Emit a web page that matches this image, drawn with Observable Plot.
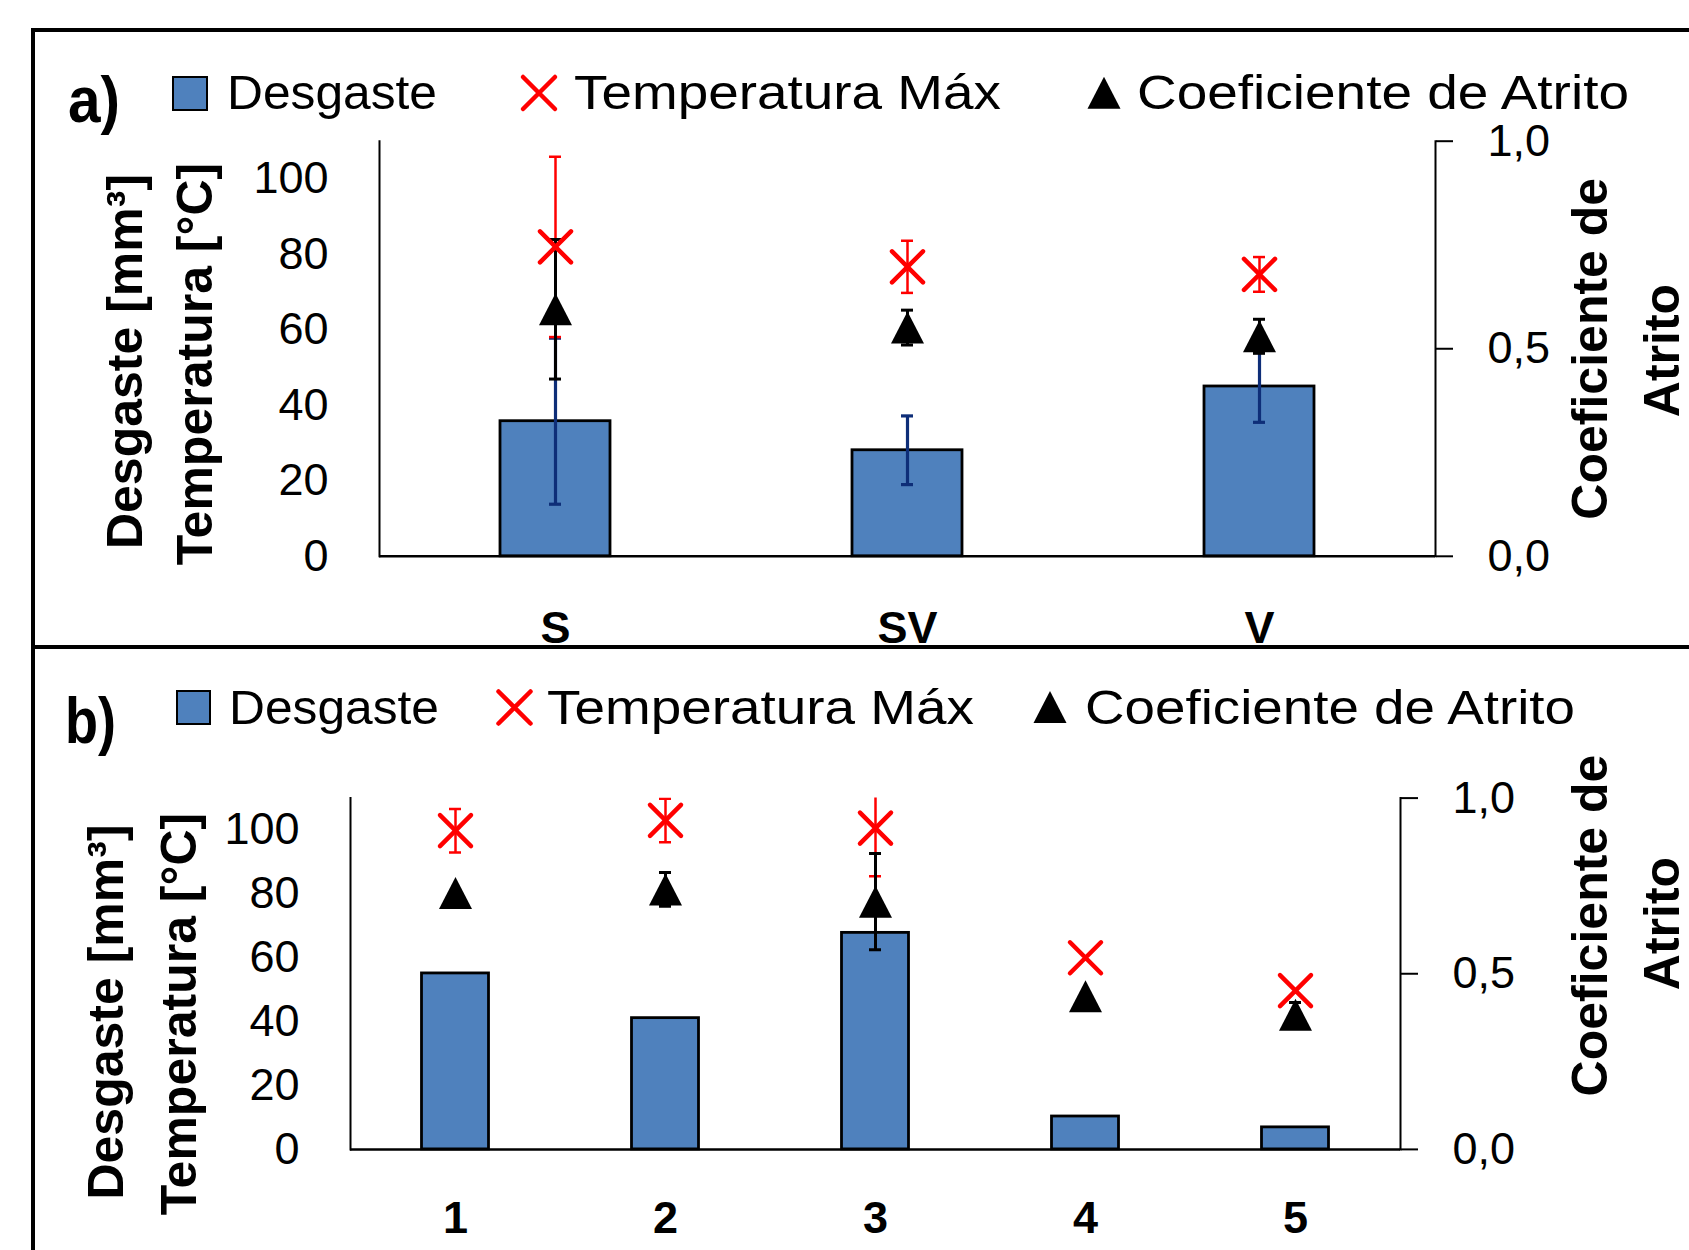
<!DOCTYPE html>
<html><head><meta charset="utf-8">
<script src="https://cdn.jsdelivr.net/npm/d3@7"></script>
<script src="https://cdn.jsdelivr.net/npm/@observablehq/plot@0.6"></script>
<style>
html,body{margin:0;padding:0;background:#fff;width:1689px;height:1250px;overflow:hidden;}
#root{position:relative;width:1689px;height:1250px;overflow:hidden;}
.abs{position:absolute;display:block;overflow:visible;}
</style></head><body><div id="root"></div>
<script>
// ---------- Panel a) ----------
const catsA = ["S", "SV", "V"];
const desgasteA = [35.8, 28.1, 45.0];
const desgasteErrA = [22.0, 9.1, 9.5];
const tempA = [82.0, 76.7, 74.7];
const tempErrA = [23.9, 6.9, 4.6];
const coefA = [0.595, 0.551, 0.530];
const coefErrA = [0.168, 0.042, 0.041];

// ---------- Panel b) ----------
const catsB = ["1", "2", "3", "4", "5"];
const desgasteB = [55.1, 41.1, 67.8, 10.3, 6.9];
const desgasteErrB = [0, 0, 0, 0, 0];
const tempB = [99.8, 103.0, 100.6, 60.0, 49.7];
const tempErrB = [6.8, 6.8, 15.1, 0, 0];
const coefB = [0.730, 0.740, 0.705, 0.436, 0.383];
const coefErrB = [0, 0.048, 0.137, 0, 0.035];

// ---------- Axes / text ----------
const leftTicks = [0, 20, 40, 60, 80, 100];
const rightTicks = [0, 0.5, 1.0];
const leftMax = 110, rightMax = 1.0;
const legendLabels = ["Desgaste", "Temperatura Máx", "Coeficiente de Atrito"];
const leftTitle = ["Desgaste [mm³]", "Temperatura [°C]"];
const rightTitle = ["Coeficiente de", "Atrito"];
const panelLabels = ["a)", "b)"];

const K = leftMax / rightMax;
const NAVY = "#0e2e78", RED = "#ff0000", BAR = "#4f81bd";
const FONT = "'Liberation Sans', Arial, sans-serif";

const triSym = {draw(ctx, size) {
  const r = Math.sqrt(size / Math.PI), w = r * 0.97, h = r * 0.94;
  ctx.moveTo(0, -h); ctx.lineTo(w, h); ctx.lineTo(-w, h); ctx.closePath();
}};
const timesSym = {draw(ctx, size) {
  const r = Math.sqrt(size / Math.PI);
  ctx.moveTo(-r, -r); ctx.lineTo(r, r); ctx.moveTo(r, -r); ctx.lineTo(-r, r);
}};

function errMarks(rows, key, errKey, color, capInset, sw) {
  const f = rows.filter(d => d[errKey] > 0);
  return [
    Plot.ruleX(f, {x: "cat", y1: d => d[key] - d[errKey], y2: d => d[key] + d[errKey], stroke: color, strokeWidth: sw, clip: true}),
    Plot.tickY(f, {x: "cat", y: d => d[key] - d[errKey], stroke: color, strokeWidth: sw, insetLeft: capInset, insetRight: capInset, clip: true}),
    Plot.tickY(f, {x: "cat", y: d => d[key] + d[errKey], stroke: color, strokeWidth: sw, insetLeft: capInset, insetRight: capInset, clip: true})
  ];
}

function title(txt, anchor, off) {
  return Plot.text([txt], {text: d => d, frameAnchor: anchor, textAnchor: "middle", lineAnchor: "middle",
    rotate: -90, dx: off[0], dy: off[1], fontSize: 50, fontWeight: "bold"});
}

function panel(c) {
  const rows = c.cats.map((cat, i) => ({
    cat, d: c.desg[i], de: c.desgErr[i], t: c.temp[i], te: c.tempErr[i],
    f: c.coef[i] * K, fe: c.coefErr[i] * K
  }));
  const W = 1689;
  const band = (W - c.ml - c.mr) / c.cats.length;
  const capInset = (band - 12) / 2;
  const barInset = (band - c.barW) / 2;
  const p = Plot.plot({
    width: W, height: c.h,
    marginLeft: c.ml, marginRight: c.mr, marginTop: c.mt, marginBottom: c.mb,
    x: {domain: c.cats, padding: 0, label: null},
    y: {domain: [0, leftMax], label: null},
    style: {fontFamily: FONT, fontSize: "45px", color: "black", background: "transparent", overflow: "visible"},
    marks: [
      Plot.barY(rows, {x: "cat", y: "d", fill: BAR, stroke: "black", strokeWidth: 2.8, insetLeft: barInset, insetRight: barInset}),
      ...errMarks(rows, "d", "de", NAVY, capInset, 3.2),
      ...errMarks(rows, "t", "te", RED, capInset, 2.5),
      ...errMarks(rows, "f", "fe", "black", capInset, 3),
      Plot.dot(rows, {x: "cat", y: "f", symbol: triSym, r: 17, fill: "black", stroke: "none"}),
      Plot.dot(rows, {x: "cat", y: "t", symbol: timesSym, r: 15.5, fill: "none", stroke: RED, strokeWidth: 4.5, strokeLinecap: "round"}),
      Plot.axisY({anchor: "left", ticks: leftTicks, tickSize: 0, tickPadding: 51, fontSize: 45, tickFormat: d => String(d), label: null}),
      Plot.axisY({anchor: "right", ticks: rightTicks.map(v => v * K), tickSize: 17, tickPadding: 35, strokeWidth: 2, fontSize: 45,
                  tickFormat: v => d3.format(".1f")(v / K).replace(".", ","), label: null}),
      Plot.axisX({anchor: "bottom", tickSize: 0, tickPadding: c.xPad, fontSize: 45, fontWeight: "bold", label: null}),
      Plot.ruleY([0], {stroke: "black", strokeWidth: 2.5}),
      Plot.frame({anchor: "left", stroke: "black", strokeWidth: 2}),
      Plot.frame({anchor: "right", stroke: "black", strokeWidth: 2}),
      title(leftTitle[0], "left", c.t1),
      title(leftTitle[1], "left", c.t2),
      title(rightTitle[0], "right", c.t3),
      title(rightTitle[1], "right", c.t4)
    ]
  });
  p.classList.add("abs");
  p.style.left = "0px";
  p.style.top = c.top + "px";
  document.getElementById("root").appendChild(p);
}

function header(h) {
  const svg = d3.select("#root").append("svg").attr("class", "abs")
    .style("left", "0px").style("top", h.top + "px").style("overflow", "visible")
    .attr("width", 1689).attr("height", h.height)
    .style("font-family", FONT);
  const g = svg.append("g").attr("transform", `translate(0,${-h.top})`);
  g.append("text").attr("x", h.label[0]).attr("y", h.label[1]).attr("font-size", 64).attr("font-weight", "bold")
    .attr("textLength", h.label[2]).attr("lengthAdjust", "spacingAndGlyphs").text(h.labelText);
  g.append("rect").attr("x", h.sw[0]).attr("y", h.sw[1]).attr("width", h.sw[2]).attr("height", h.sw[3])
    .attr("fill", BAR).attr("stroke", "black").attr("stroke-width", 2);
  const [cx, cy, r] = h.times;
  g.append("path").attr("d", `M${cx - r},${cy - r}L${cx + r},${cy + r}M${cx + r},${cy - r}L${cx - r},${cy + r}`)
    .attr("stroke", RED).attr("stroke-width", 4.5).attr("stroke-linecap", "round").attr("fill", "none");
  const [tx, ty, tw, th] = h.tri;
  g.append("path").attr("d", `M${tx},${ty - th / 2}L${tx + tw / 2},${ty + th / 2}L${tx - tw / 2},${ty + th / 2}Z`).attr("fill", "black");
  legendLabels.forEach((lab, i) => {
    const [x, y, len] = h.texts[i];
    g.append("text").attr("x", x).attr("y", y).attr("font-size", 49)
      .attr("textLength", len).attr("lengthAdjust", "spacingAndGlyphs").text(lab);
  });
}

header({top: 0, height: 142, labelText: panelLabels[0], label: [68, 122, 52],
  sw: [173, 77, 34, 33], times: [539, 93, 16], tri: [1104, 92.7, 33, 32],
  texts: [[227, 109, 210], [574, 109, 427], [1137, 109, 492]]});

panel({cats: catsA, desg: desgasteA, desgErr: desgasteErrA, temp: tempA, tempErr: tempErrA, coef: coefA, coefErr: coefErrA,
  top: 134, h: 510, ml: 379, mr: 254, mt: 6.7, mb: 88.2, barW: 110, xPad: 55,
  t1: [-254, 12.75], t2: [-184, 15.25], t3: [155, 0], t4: [227, 1.75]});

header({top: 650, height: 112, labelText: panelLabels[1], label: [65, 743, 51],
  sw: [177, 691, 33, 33], times: [514.5, 707.5, 16], tri: [1050, 707, 33, 32],
  texts: [[229, 724, 210], [547, 724, 427], [1085, 724, 490]]});

panel({cats: catsB, desg: desgasteB, desgErr: desgasteErrB, temp: tempB, tempErr: tempErrB, coef: coefB, coefErr: coefErrB,
  top: 745, h: 505, ml: 350, mr: 289, mt: 52.6, mb: 101.1, barW: 67, xPad: 52,
  t1: [-244, 38.25], t2: [-171, 40.25], t3: [190, -48.25], t4: [262, -50.25]});

// outer border and divider between panels
const root = document.getElementById("root");
const box = document.createElement("div");
box.className = "abs";
Object.assign(box.style, {left: "31px", top: "28px", width: "1720px", height: "1300px", border: "4px solid black", boxSizing: "border-box", pointerEvents: "none"});
root.appendChild(box);
const divider = document.createElement("div");
divider.className = "abs";
Object.assign(divider.style, {left: "31px", top: "645px", width: "1700px", height: "4px", background: "black"});
root.appendChild(divider);
</script>
</body></html>
